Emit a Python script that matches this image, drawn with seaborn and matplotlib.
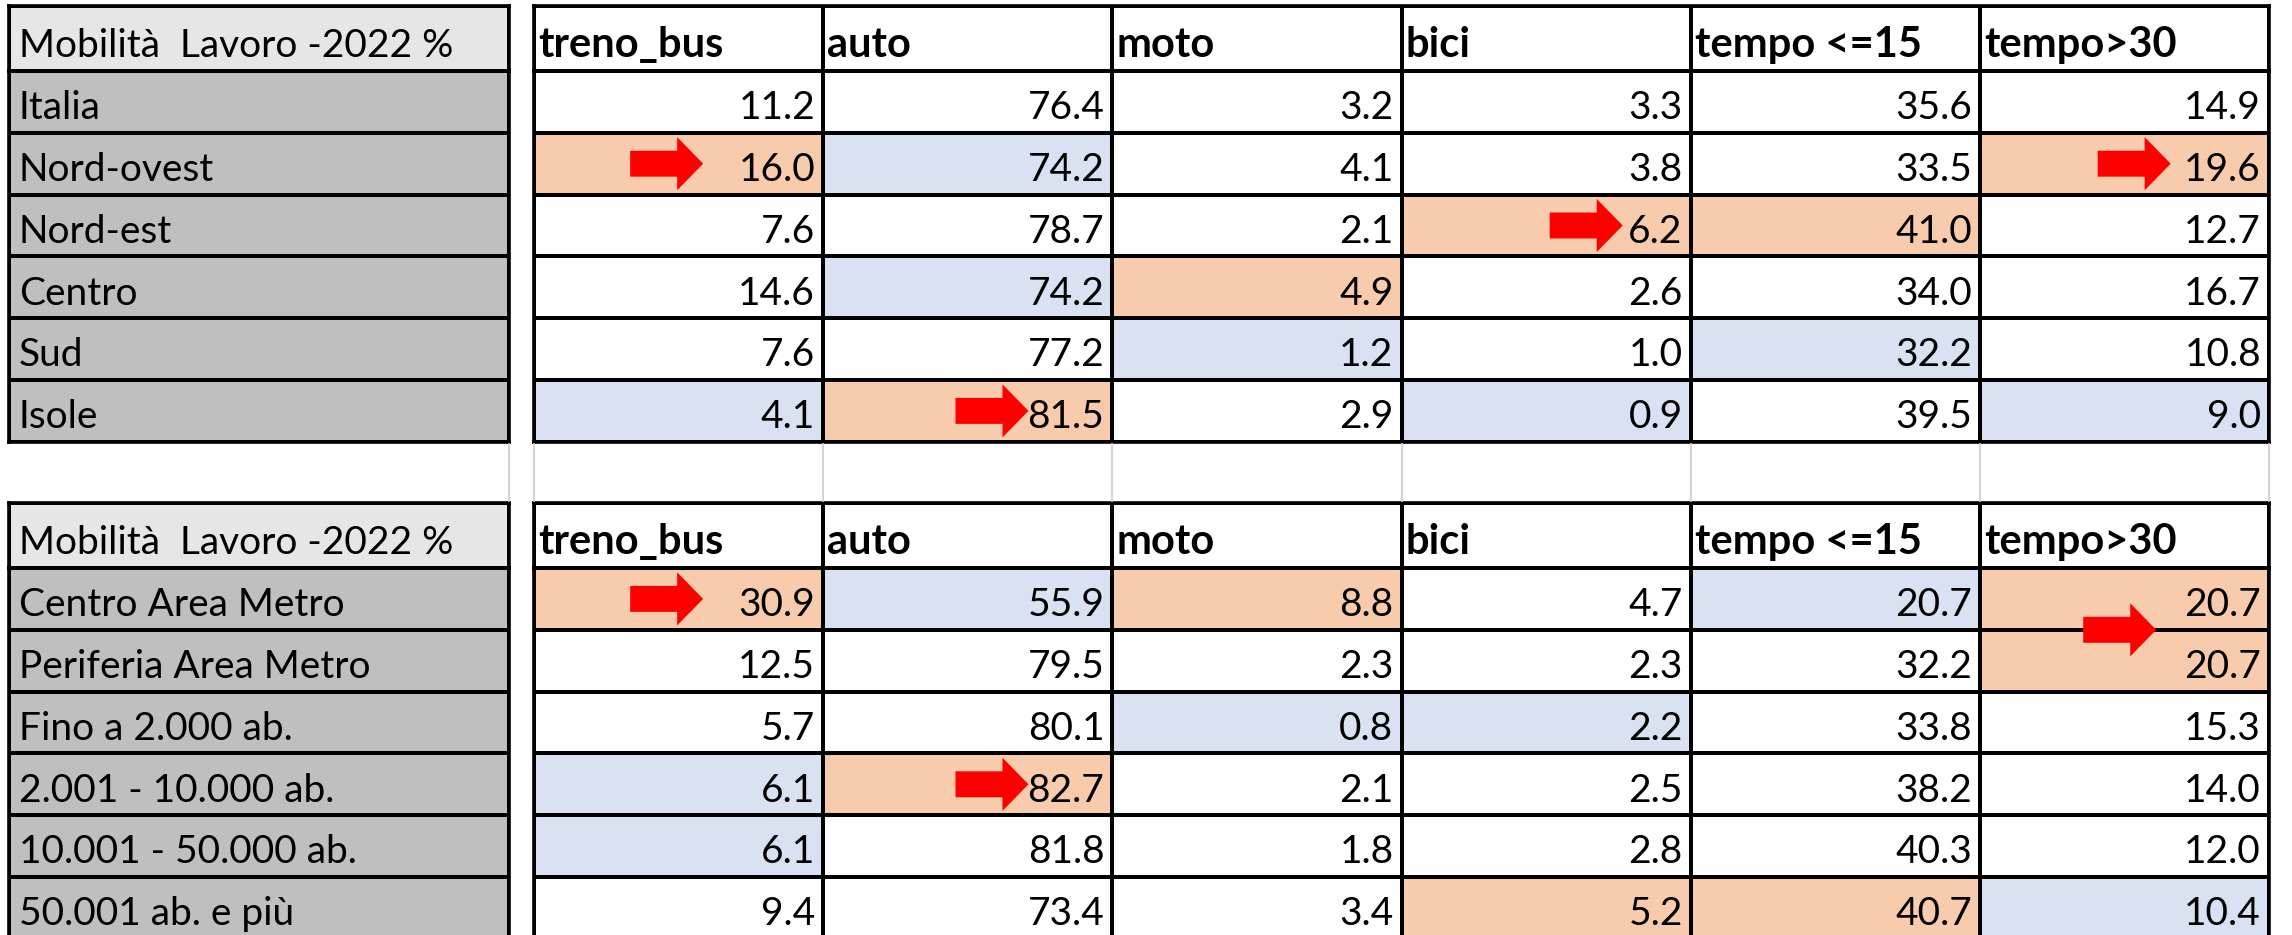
import numpy as np
import matplotlib
matplotlib.use("Agg")
import matplotlib.pyplot as plt
import matplotlib.patches as mpatches
from matplotlib.colors import ListedColormap
from matplotlib.lines import Line2D
import seaborn as sns

sns.set_style("white")
plt.rcParams["font.family"] = ["Lato", "DejaVu Sans"]
plt.rcParams["text.color"] = "black"

title = "Mobilità  Lavoro -2022 %"
columns = ["treno_bus", "auto", "moto", "bici", "tempo <=15", "tempo>30"]

areas = ["Italia", "Nord-ovest", "Nord-est", "Centro", "Sud", "Isole"]
areas_values = [
    [11.2, 76.4, 3.2, 3.3, 35.6, 14.9],
    [16.0, 74.2, 4.1, 3.8, 33.5, 19.6],
    [7.6, 78.7, 2.1, 6.2, 41.0, 12.7],
    [14.6, 74.2, 4.9, 2.6, 34.0, 16.7],
    [7.6, 77.2, 1.2, 1.0, 32.2, 10.8],
    [4.1, 81.5, 2.9, 0.9, 39.5, 9.0],
]
# 0 = none, 1 = max (orange), 2 = min (blue)
areas_marks = [
    [0, 0, 0, 0, 0, 0],
    [1, 2, 0, 0, 0, 1],
    [0, 0, 0, 1, 1, 0],
    [0, 2, 1, 0, 0, 0],
    [0, 0, 2, 0, 2, 0],
    [2, 1, 0, 2, 0, 2],
]

towns = ["Centro Area Metro", "Periferia Area Metro", "Fino a 2.000 ab.",
         "2.001 - 10.000 ab.", "10.001 - 50.000 ab.", "50.001 ab. e più"]
towns_values = [
    [30.9, 55.9, 8.8, 4.7, 20.7, 20.7],
    [12.5, 79.5, 2.3, 2.3, 32.2, 20.7],
    [5.7, 80.1, 0.8, 2.2, 33.8, 15.3],
    [6.1, 82.7, 2.1, 2.5, 38.2, 14.0],
    [6.1, 81.8, 1.8, 2.8, 40.3, 12.0],
    [9.4, 73.4, 3.4, 5.2, 40.7, 10.4],
]
towns_marks = [
    [1, 2, 1, 0, 2, 1],
    [0, 0, 0, 0, 0, 1],
    [0, 0, 2, 2, 0, 0],
    [2, 1, 0, 0, 0, 0],
    [2, 0, 0, 0, 0, 0],
    [0, 0, 0, 1, 1, 2],
]

# arrows: (row centre, column, tip position inside the cell)
areas_arrows = [(1.5, 0, 0.585), (1.5, 5, 0.66), (2.5, 3, 0.765), (5.5, 1, 0.71)]
towns_arrows = [(0.5, 0, 0.585), (1.0, 5, 0.61), (3.5, 1, 0.71)]

# layout in pixels
W, H = 2292, 935
LX0, LX1 = 9, 509
DX0, DX1 = 534, 2269
HEAD_H = 65
ROW_H = 61.8
LW = 2.6
FS = 28
FS_HEAD = 30
ORANGE, BLUE = "#F8CBAD", "#D9E1F2"

fig = plt.figure(figsize=(W / 100, H / 100), dpi=100)


def add_ax(x0, y0, x1, y1):
    return fig.add_axes([x0 / W, 1 - y1 / H, (x1 - x0) / W, (y1 - y0) / H])


def grid(ax, data, colors, vmax):
    sns.heatmap(data, ax=ax, cmap=ListedColormap(colors), vmin=0, vmax=vmax,
                cbar=False, linewidths=LW, linecolor="black",
                xticklabels=False, yticklabels=False)
    for s in ax.spines.values():
        s.set_visible(True)
        s.set_linewidth(LW)
        s.set_color("black")


def draw_table(top, labels, values, marks, arrows):
    n = len(labels)
    hb = top + HEAD_H
    bottom = hb + n * ROW_H
    pad = 13.5 / ROW_H

    ax = add_ax(LX0, top, LX1, hb)
    grid(ax, np.zeros((1, 1)), ["#E7E6E6"], 1)
    ax.text(10 / (LX1 - LX0), 1 - 14 / HEAD_H, title, ha="left", va="baseline",
            fontsize=FS)

    ax = add_ax(DX0, top, DX1, hb)
    grid(ax, np.zeros((1, len(columns))), ["white"], 1)
    cw = (DX1 - DX0) / len(columns)
    for j, c in enumerate(columns):
        ax.text(j + 4 / cw, 1 - 14 / HEAD_H, c, ha="left", va="baseline",
                fontsize=FS_HEAD, fontweight="bold")

    ax = add_ax(LX0, hb, LX1, bottom)
    grid(ax, np.zeros((n, 1)), ["#BFBFBF"], 1)
    for i, lab in enumerate(labels):
        ax.text(10 / (LX1 - LX0), i + 1 - pad, lab, ha="left", va="baseline",
                fontsize=FS)

    ax = add_ax(DX0, hb, DX1, bottom)
    grid(ax, np.array(marks), ["white", ORANGE, BLUE], 2)
    for i, row in enumerate(values):
        for j, v in enumerate(row):
            ax.text(j + 1 - 8 / cw, i + 1 - pad, f"{v:.1f}", ha="right",
                    va="baseline", fontsize=FS)
    alen, hlen = 73 / cw, 26 / cw
    for r, c, tip in arrows:
        ax.add_patch(mpatches.FancyArrow(
            c + tip - alen, r, alen, 0, width=0.42, head_width=0.86,
            head_length=hlen, length_includes_head=True, color="#FF0000",
            lw=0, zorder=5, clip_on=False))
    return bottom


b1 = draw_table(6, areas, areas_values, areas_marks, areas_arrows)
draw_table(503, towns, towns_values, towns_marks, towns_arrows)

# faint sheet gridlines in the empty row
cw = (DX1 - DX0) / len(columns)
for x in [LX1] + [DX0 + k * cw for k in range(len(columns) + 1)]:
    fig.add_artist(Line2D([x / W, x / W], [1 - (b1 + 2) / H, 1 - 501 / H],
                          color="#D4D4D4", lw=1.5))

fig.savefig("out.png", dpi=100, facecolor="white")
